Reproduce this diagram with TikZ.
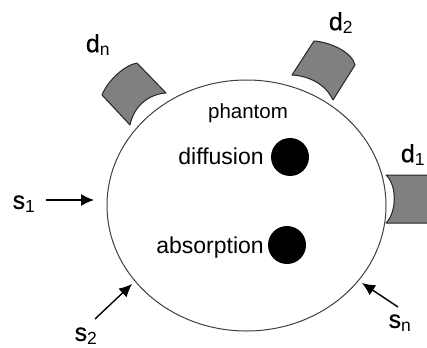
\documentclass[tikz,border=0pt]{standalone}
\usepackage{fontspec}
\setmainfont{Liberation Sans}
\newfontfamily\symfont[FakeBold=0.6]{Liberation Sans}
\usetikzlibrary{arrows.meta,shapes.geometric}
\tikzset{
  lab/.style={inner sep=0pt,font=\fontsize{20.5}{22}\selectfont,text=black},
  labb/.style={inner sep=0pt,font=\fontsize{23}{25}\selectfont,text=black},
  sym/.style={inner sep=0pt,font=\symfont\fontsize{25}{27}\selectfont,text=black},
  det/.style={draw=black!85,line width=1pt,fill=black!50,line join=round},
  ball/.style={circle,fill=black,draw=none,minimum size=38pt,inner sep=0pt},
  src/.style={draw=black,line width=1.4pt,-{Latex[length=13pt,width=12pt]}}
}
\newcommand{\subn}[1]{\textsubscript{\normalfont #1}}
\begin{document}
\begin{tikzpicture}[x=1pt,y=-1pt]
\useasboundingbox (0,0) rectangle (427,347);
\path[fill=white] (0,0) rectangle (427,347);
\draw[det] (130,125) -- (102,95) .. controls (108,80) and (125,65) .. (137,63) -- (166,93) .. controls (150,94) and (134,105) .. cycle;
\draw[det] (292,75) -- (314,41) .. controls (330,42) and (352,52) .. (355,65) -- (333,100) .. controls (326,85) and (310,76) .. cycle;
\draw[det] (427,175) -- (386,175) .. controls (397,185) and (397,212) .. (386,223) -- (427,223);
\node[draw=black!75,line width=1pt,ellipse,minimum width=279pt,minimum height=251pt,inner sep=0pt] (phantomcircle) at (246.5,205.5) {};
\node[lab] (phantom) at (248,113) {phantom};
\node[labb] (diff) at (221,156) {diffusion};
\node[labb] (abs) at (210,248) {absorption};
\node[ball] (b1) at (290,157) {};
\node[ball] (b2) at (287,245) {};
\node[sym] (dn) at (98,45) {d\subn{n}};
\node[sym] (d2) at (341,23) {d\subn{2}};
\node[sym] (d1) at (413,155) {d\subn{1}};
\node[sym] (s1) at (24,204) {s\subn{1}};
\node[sym] (s2) at (86,336) {s\subn{2}};
\node[sym] (sn) at (400,323) {s\subn{n}};
\coordinate (a1) at (46,200); \coordinate (a1e) at (94,200);
\coordinate (a2) at (95,319); \coordinate (a2e) at (132,284);
\coordinate (a3) at (398,307); \coordinate (a3e) at (362,283);
\draw[src] (a1) -- (a1e);
\draw[src] (a2) -- (a2e);
\draw[src] (a3) -- (a3e);
\end{tikzpicture}
\end{document}
